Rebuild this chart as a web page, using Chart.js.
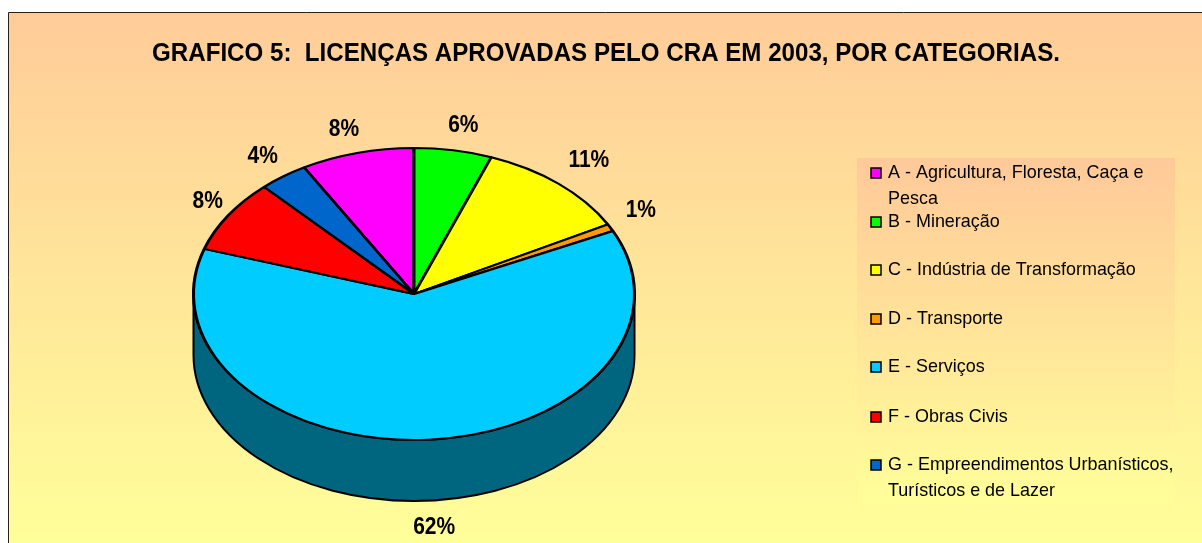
<!DOCTYPE html>
<html><head><meta charset="utf-8">
<style>html,body{margin:0;padding:0;background:#fff}canvas{display:block}#w{width:1202px;height:543px;position:relative}</style>
<script src="https://cdn.jsdelivr.net/npm/chart.js@4/dist/chart.umd.js"></script>
</head><body><div id="w"><canvas id="c" width="1202" height="543"></canvas></div>
<script>
const chartTitle = "GRAFICO 5:  LICENÇAS APROVADAS PELO CRA EM 2003, POR CATEGORIAS.";
const categories = ["A - Agricultura, Floresta, Caça e Pesca","B - Mineração","C - Indústria de Transformação","D - Transporte","E - Serviços","F - Obras Civis","G - Empreendimentos Urbanísticos, Turísticos e de Lazer"];
const legendLines = [["A - Agricultura, Floresta, Caça e","Pesca"],["B - Mineração"],["C - Indústria de Transformação"],["D - Transporte"],["E - Serviços"],["F - Obras Civis"],["G - Empreendimentos Urbanísticos,","Turísticos e de Lazer"]];
const values = [8.3,5.7,11.4,0.8,62.1,8.1,3.6];
const valueLabels = ["8%","6%","11%","1%","62%","8%","4%"];
const colors = ["#FF00FF","#00FF00","#FFFF00","#FF9900","#00CCFF","#FF0000","#0066CC"];
const sideColor = "#006680";
const legendRows = [173,222,270,319,367,417,465];
const labelNudgeX = [-3,3,4,-5,3,13,3];
const labelNudgeY = [2,1,-4,-5,0,0,1];

const YS = 147/222, DEPTH = 61;
const FONT = '"Liberation Sans", Arial, sans-serif';

function squeezed(c,text,x,y,sx){
  c.save(); c.translate(x,y); c.scale(sx,1); c.fillText(text,0,0); c.restore();
}

const pie3d = {
  id:'pie3d',
  beforeDraw(chart){
    const c = chart.ctx;
    c.save();
    c.fillStyle='#fff'; c.fillRect(0,0,chart.width,chart.height);
    let g=c.createLinearGradient(0,12,0,543);
    g.addColorStop(0,'#FFCC99'); g.addColorStop(1,'#FFFF99');
    c.fillStyle=g; c.fillRect(8,12,1194,531);
    c.strokeStyle='#2a2015'; c.lineWidth=1;
    c.beginPath(); c.moveTo(8.5,543); c.lineTo(8.5,12.5); c.lineTo(1202,12.5); c.stroke();
    g=c.createLinearGradient(0,158,0,505);
    g.addColorStop(0,'#FFC999'); g.addColorStop(1,'#FFFF99');
    c.fillStyle=g; c.fillRect(857,158,318,347);
    c.restore();
  },
  beforeDatasetsDraw(chart){
    const c = chart.ctx, arc = chart.getDatasetMeta(0).data[4];
    const cx=arc.x, cy=arc.y, rx=arc.outerRadius, ry=rx*YS;
    c.save();
    c.beginPath();
    c.ellipse(cx,cy+DEPTH,rx,ry,0,0,Math.PI);
    c.lineTo(cx-rx,cy);
    c.ellipse(cx,cy,rx,ry,0,Math.PI,0,true);
    c.closePath();
    c.fillStyle=sideColor; c.fill();
    c.strokeStyle='#000'; c.lineWidth=2; c.stroke();
    c.restore();
    c.save();
    c.translate(0,cy); c.scale(1,YS); c.translate(0,-cy);
  },
  afterDatasetsDraw(chart){
    const c = chart.ctx;
    c.restore();
    const arcs = chart.getDatasetMeta(0).data;
    c.save();
    c.fillStyle='#000'; c.textBaseline='middle'; c.textAlign='center';
    c.font='bold 25px '+FONT;
    squeezed(c,chartTitle,606,54,0.965);
    c.font='bold 24px '+FONT;
    arcs.forEach((a,i)=>{
      const m=(a.startAngle+a.endAngle)/2;
      const x=a.x+a.outerRadius*1.18*Math.cos(m)+labelNudgeX[i];
      const sin=Math.sin(m);
      const y=a.y+a.outerRadius*YS*1.18*sin+(sin>0?DEPTH:0)+labelNudgeY[i];
      squeezed(c,valueLabels[i],x,y,0.875);
    });
    c.textAlign='left';
    c.font='19px '+FONT;
    legendLines.forEach((ls,i)=>{
      const y=legendRows[i];
      c.fillStyle=colors[i]; c.fillRect(871,y-5,10,10);
      c.strokeStyle='#000'; c.lineWidth=1.5; c.strokeRect(871,y-5,10,10);
      c.fillStyle='#000';
      ls.forEach((t,k)=>squeezed(c,t,888,y+k*26,0.945));
    });
    c.restore();
  }
};

new Chart(document.getElementById('c'),{
  type:'pie',
  data:{labels:categories,datasets:[{data:values,backgroundColor:colors,borderColor:'#000',borderWidth:3,clip:false}]},
  options:{
    responsive:false,animation:false,rotation:-values[0]/100*360,
    layout:{padding:{left:192,right:566,top:72,bottom:27}},
    plugins:{legend:{display:false},title:{display:false},tooltip:{enabled:false}}
  },
  plugins:[pie3d]
});
</script></body></html>
